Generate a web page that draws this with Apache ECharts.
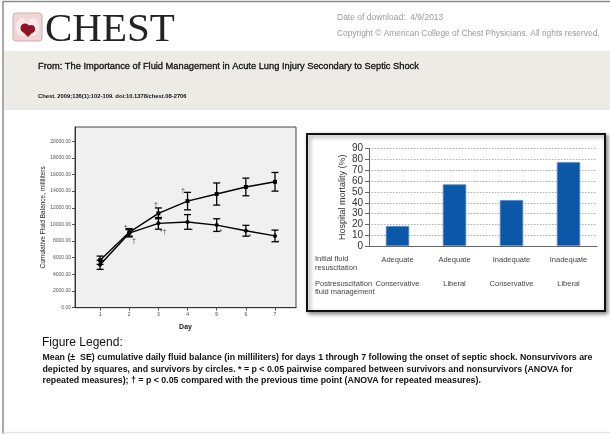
<!DOCTYPE html>
<html>
<head>
<meta charset="utf-8">
<script src="https://cdn.jsdelivr.net/npm/echarts@6/dist/echarts.min.js"></script>
<style>
  html, body { margin: 0; padding: 0; background: #fff; }
  #main { width: 610px; height: 434px; }
</style>
</head>
<body>
<div id="main"></div>
<script>
// left chart: cumulative fluid balance by day
var days = [1, 2, 3, 4, 5, 6, 7];
var nonsurvMean = [5700, 9050, 11330, 12800, 13650, 14500, 15120];
var nonsurvSE = [500, 450, 650, 1050, 1330, 1060, 1120];
var survMean = [5150, 8950, 10130, 10300, 9920, 9240, 8620];
var survSE = [550, 450, 700, 880, 760, 650, 700];

// significance marks (day position, value position, text)
var markDay = [1.88, 2.16, 2.92, 3.17, 3.84, 4.14, 5.14, 6.14, 7.11];
var markValue = [9600, 8000, 12320, 9050, 14040, 9200, 9080, 8520, 7730];
var markText = ['†', '†', '†', '*†', '†', '*', '*', '*', '*'];

// right chart: hospital mortality
var initialFluid = ['Adequate', 'Adequate', 'Inadequate', 'Inadequate'];
var postFluid = ['Conservative', 'Liberal', 'Conservative', 'Liberal'];
var mortality = [18.5, 57, 42.5, 77.5];

var legendLines = [
  'Mean (\u00b1  SE) cumulative daily fluid balance (in milliliters) for days 1 through 7 following the onset of septic shock. Nonsurvivors are',
  'depicted by squares, and survivors by circles. * = p < 0.05 pairwise compared between survivors and nonsurvivors (ANOVA for',
  'repeated measures); \u2020 = p < 0.05 compared with the previous time point (ANOVA for repeated measures).'
];

var sans = "'Liberation Sans', Arial, sans-serif";

function errBars(mean, se) {
  return days.map(function (d, i) { return [d, mean[i] - se[i], mean[i] + se[i]]; });
}

function renderErr(params, api) {
  var x = api.value(0);
  var lo = api.coord([x, api.value(1)]);
  var hi = api.coord([x, api.value(2)]);
  var w = 3.5;
  var st = { stroke: '#000', lineWidth: 1.3 };
  return {
    type: 'group',
    children: [
      { type: 'line', shape: { x1: lo[0], y1: lo[1], x2: hi[0], y2: hi[1] }, style: st },
      { type: 'line', shape: { x1: hi[0] - w, y1: hi[1], x2: hi[0] + w, y2: hi[1] }, style: st },
      { type: 'line', shape: { x1: lo[0] - w, y1: lo[1], x2: lo[0] + w, y2: lo[1] }, style: st }
    ]
  };
}

var chart = echarts.init(document.getElementById('main'), null, { renderer: 'canvas' });

var graphics = [
  // page frame
  { type: 'line', shape: { x1: 3, y1: 1.5, x2: 610, y2: 1.5 }, style: { stroke: '#8a8a8a', lineWidth: 1.3 } },
  { type: 'line', shape: { x1: 3, y1: 1, x2: 3, y2: 434 }, style: { stroke: '#7a7a7a', lineWidth: 1.3 } },
  { type: 'line', shape: { x1: 3, y1: 432.5, x2: 610, y2: 432.5 }, style: { stroke: '#e2e2e2', lineWidth: 1.5 } },
  // header band
  { type: 'rect', shape: { x: 4, y: 51, width: 606, height: 59 }, style: { fill: '#ecebe6' } },
  // logo
  { type: 'rect', shape: { x: 13, y: 13, width: 29, height: 28, r: 3 }, style: { fill: '#efd5d5', stroke: '#d4a9a9', lineWidth: 1 } },
  { type: 'ellipse', shape: { cx: 22, cy: 27, rx: 6, ry: 9 }, style: { fill: '#f8e9e9' } },
  { type: 'ellipse', shape: { cx: 33, cy: 27, rx: 6, ry: 9 }, style: { fill: '#f8e9e9' } },
  { type: 'circle', shape: { cx: 25, cy: 28, r: 4.5 }, style: { fill: '#8e1428' } },
  { type: 'circle', shape: { cx: 31, cy: 29, r: 4 }, style: { fill: '#8e1428' } },
  { type: 'polygon', shape: { points: [[21, 30], [35, 30], [28, 37]] }, style: { fill: '#8e1428' } },
  { type: 'text', style: { text: 'CHEST', x: 45, y: 30, font: "41px 'Liberation Serif', 'Times New Roman', serif", fill: '#222', verticalAlign: 'middle' } },
  { type: 'text', style: { text: 'Date of download:  4/9/2013', x: 337, y: 18, font: '8.5px ' + sans, fill: '#9a9a9a', verticalAlign: 'middle' } },
  { type: 'text', style: { text: 'Copyright \u00a9 American College of Chest Physicians. All rights reserved.', x: 337, y: 34, font: '8.4px ' + sans, fill: '#9a9a9a', verticalAlign: 'middle' } },
  { type: 'text', style: { text: 'From: The Importance of Fluid Management in Acute Lung Injury Secondary to Septic Shock', x: 38, y: 66, font: '9.3px ' + sans, fill: '#111', verticalAlign: 'middle', stroke: '#111', lineWidth: 0.3 } },
  { type: 'text', style: { text: 'Chest. 2009;136(1):102-109. doi:10.1378/chest.08-2706', x: 38, y: 96, font: 'bold 5.8px ' + sans, fill: '#111', verticalAlign: 'middle' } },
  // right figure frame
  { type: 'rect', z: -1, shape: { x: 307, y: 134, width: 298, height: 177 }, style: { fill: '#fff', stroke: '#111', lineWidth: 2, shadowBlur: 4, shadowColor: 'rgba(0,0,0,0.45)', shadowOffsetX: 2, shadowOffsetY: 2 } },
  { type: 'text', style: { text: 'Initial fluid\nresuscitation', x: 315, y: 255, font: '7.5px ' + sans, fill: '#444', lineHeight: 8.5 } },
  { type: 'text', style: { text: 'Postresuscitation\nfluid management', x: 315, y: 279.5, font: '7.5px ' + sans, fill: '#444', lineHeight: 8.5 } },
  // figure legend
  { type: 'text', style: { text: 'Figure Legend:', x: 42, y: 343, font: '12px ' + sans, fill: '#111', verticalAlign: 'middle' } }
];
legendLines.forEach(function (t, i) {
  graphics.push({ type: 'text', style: { text: t, x: 42.5, y: 358 + i * 11.5, font: 'bold 8.8px ' + sans, fill: '#111', verticalAlign: 'middle' } });
});

var option = {
  animation: false,
  backgroundColor: '#fff',
  graphic: graphics,
  grid: [
    { left: 75, right: 314, top: 127, bottom: 126.3, show: true, backgroundColor: '#f0f0f0', borderColor: '#444', borderWidth: 1 },
    { left: 369, right: 13, top: 148.7, bottom: 188 }
  ],
  xAxis: [
    {
      gridIndex: 0, type: 'value', min: 0.14, max: 7.72,
      name: 'Day', nameLocation: 'middle', nameGap: 16,
      nameTextStyle: { fontFamily: sans, fontSize: 7, fontWeight: 'bold', color: '#222' },
      axisLine: { lineStyle: { color: '#333' } },
      axisTick: { customValues: days, length: 3, lineStyle: { color: '#555' } },
      axisLabel: { customValues: days, fontFamily: sans, fontSize: 5, color: '#444', margin: 4 },
      splitLine: { show: false }
    },
    {
      gridIndex: 1, type: 'category', data: initialFluid,
      axisLine: { lineStyle: { color: '#666' } },
      axisTick: { length: 4, lineStyle: { color: '#666' } },
      axisLabel: {
        margin: 2, interval: 0,
        formatter: function (v, i) { return '{a|' + initialFluid[i] + '}\n{a|' + postFluid[i] + '}'; },
        rich: { a: { fontFamily: sans, fontSize: 7.5, color: '#444', lineHeight: 24 } }
      }
    }
  ],
  yAxis: [
    {
      gridIndex: 0, type: 'value', min: 0, max: 21700, interval: 2000,
      name: 'Cumulative Fluid Balance, milliliters', nameLocation: 'middle', nameGap: 22,
      nameTextStyle: { fontFamily: sans, fontSize: 6.5, color: '#222' },
      axisLine: { show: true, lineStyle: { color: '#333' } },
      axisTick: { show: true, length: 3, lineStyle: { color: '#555' } },
      axisLabel: { showMaxLabel: false, fontFamily: sans, fontSize: 5, color: '#555', margin: 4, formatter: function (v) { return v.toFixed(2); } },
      splitLine: { show: false }
    },
    {
      gridIndex: 1, type: 'value', min: 0, max: 90, interval: 10,
      name: 'Hospital mortality (%)', nameLocation: 'middle', nameGap: 22,
      nameTextStyle: { fontFamily: sans, fontSize: 9, color: '#333' },
      axisLine: { show: true, lineStyle: { color: '#666' } },
      axisTick: { show: true, length: 4, lineStyle: { color: '#666' } },
      axisLabel: { fontFamily: sans, fontSize: 10, color: '#333', margin: 6 },
      splitLine: { show: true, lineStyle: { color: '#999', type: [1.5, 1.5], width: 0.8 } }
    }
  ],
  series: [
    {
      type: 'custom', xAxisIndex: 0, yAxisIndex: 0, renderItem: renderErr,
      data: errBars(nonsurvMean, nonsurvSE), z: 3
    },
    {
      type: 'custom', xAxisIndex: 0, yAxisIndex: 0, renderItem: renderErr,
      data: errBars(survMean, survSE), z: 3
    },
    {
      type: 'line', xAxisIndex: 0, yAxisIndex: 0, name: 'Nonsurvivors',
      data: days.map(function (d, i) { return [d, nonsurvMean[i]]; }),
      symbol: 'rect', symbolSize: 4, showAllSymbol: true,
      itemStyle: { color: '#000' }, lineStyle: { color: '#000', width: 1.4 }, z: 4
    },
    {
      type: 'line', xAxisIndex: 0, yAxisIndex: 0, name: 'Survivors',
      data: days.map(function (d, i) { return [d, survMean[i]]; }),
      symbol: 'circle', symbolSize: 4, showAllSymbol: true,
      itemStyle: { color: '#000' }, lineStyle: { color: '#000', width: 1.4 }, z: 4
    },
    {
      type: 'scatter', xAxisIndex: 0, yAxisIndex: 0, symbolSize: 0, silent: true,
      data: markDay.map(function (d, i) { return { value: [d, markValue[i]], name: markText[i] }; }),
      label: { show: true, position: 'inside', formatter: '{b}', fontFamily: sans, fontSize: 7, color: '#111' }
    },
    {
      type: 'bar', xAxisIndex: 1, yAxisIndex: 1, name: 'Mortality',
      data: mortality, barWidth: '41%',
      itemStyle: { color: '#0b58a8', borderColor: '#5b86bf', borderWidth: 0.8 }
    }
  ]
};

chart.setOption(option);
</script>
</body>
</html>
